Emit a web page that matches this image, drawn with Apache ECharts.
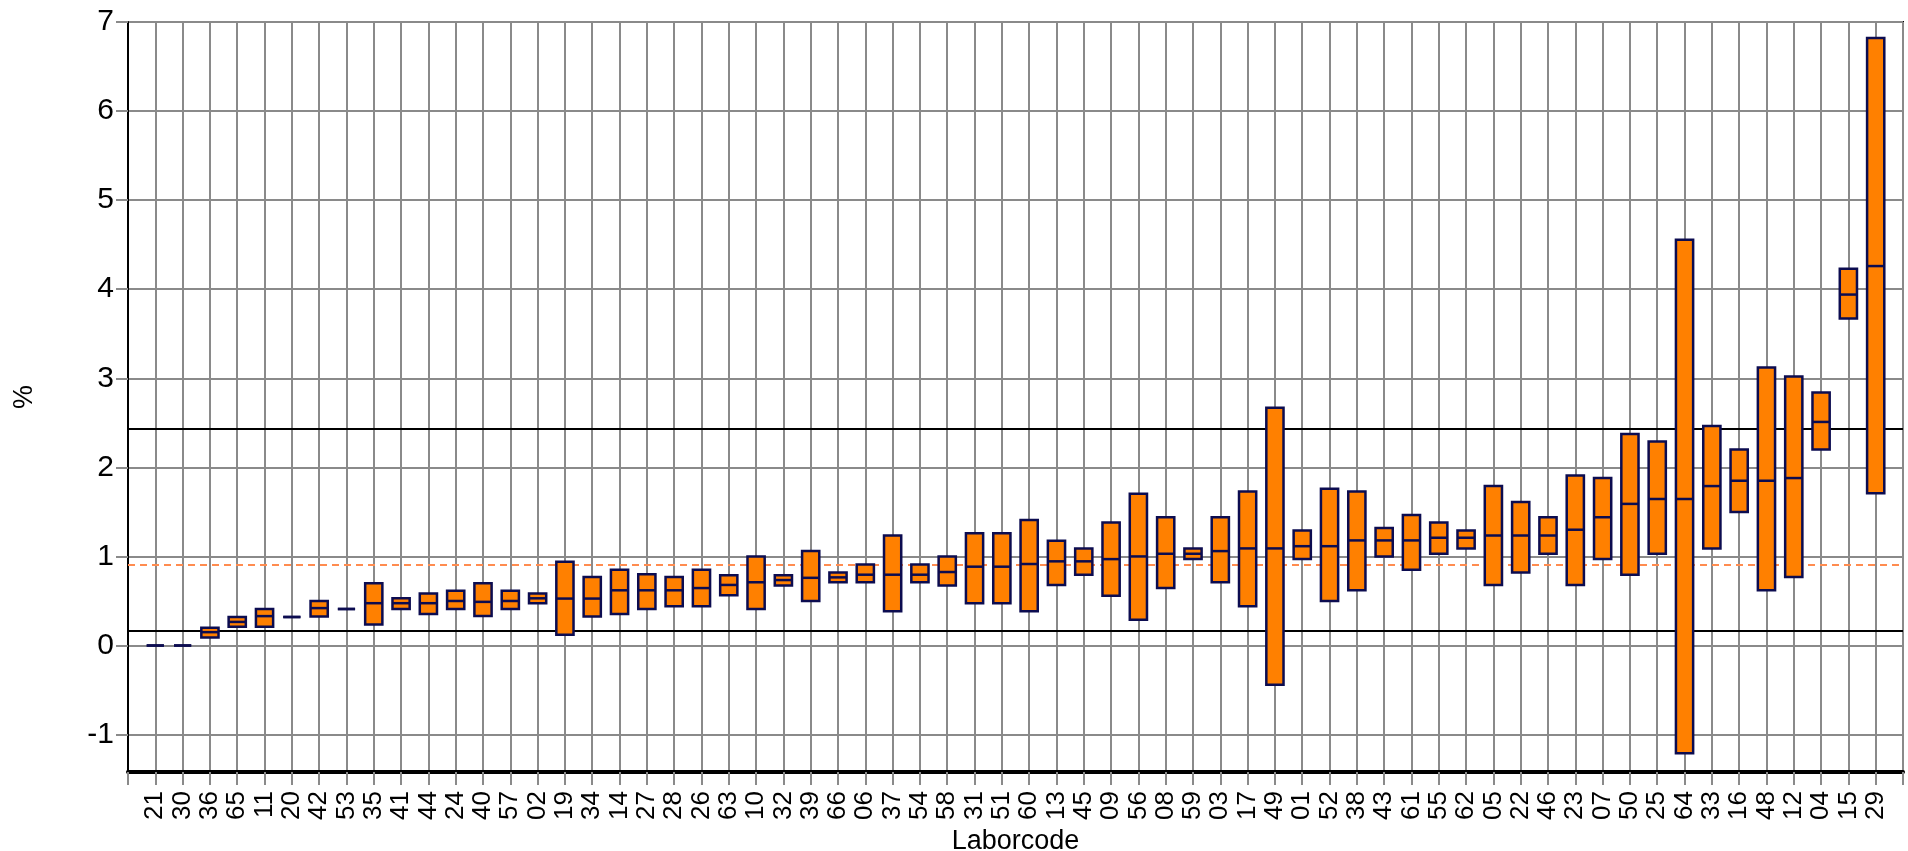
<!DOCTYPE html>
<html>
<head>
<meta charset="utf-8">
<script src="https://cdn.jsdelivr.net/npm/echarts@6/dist/echarts.min.js"></script>
<style>
html,body{margin:0;padding:0;background:#fff;}
#chart{width:1908px;height:851px;}
</style>
</head>
<body>
<div id="chart"></div>
<script>
const codes = ['21','30','36','65','11','20','42','53','35','41','44','24','40','57','02','19','34','14','27','28','26','63','10','32','39','66','06','37','54','58','31','51','60','13','45','09','56','08','59','03','17','49','01','52','38','43','61','55','62','05','22','46','23','07','50','25','64','33','16','48','12','04','15','29'];
const lows = [0,0,0.09,0.21,0.21,0.32,0.325,0.41,0.235,0.41,0.355,0.41,0.33,0.41,0.475,0.12,0.325,0.355,0.41,0.44,0.44,0.565,0.41,0.675,0.50,0.71,0.71,0.385,0.71,0.675,0.475,0.475,0.385,0.68,0.795,0.56,0.29,0.645,0.97,0.71,0.44,-0.44,0.97,0.50,0.62,1.0,0.85,1.03,1.09,0.68,0.82,1.03,0.68,0.97,0.795,1.03,-1.21,1.09,1.50,0.62,0.77,2.20,3.67,1.71];
const medians = [0,0,0.15,0.265,0.33,0.32,0.42,0.41,0.475,0.475,0.475,0.50,0.49,0.50,0.53,0.527,0.527,0.62,0.62,0.62,0.645,0.68,0.71,0.735,0.76,0.765,0.795,0.795,0.795,0.825,0.885,0.885,0.915,0.945,0.945,0.97,1.0,1.03,1.03,1.06,1.09,1.09,1.115,1.115,1.18,1.18,1.18,1.21,1.21,1.235,1.235,1.235,1.30,1.44,1.59,1.645,1.645,1.79,1.85,1.85,1.88,2.51,3.94,4.26];
const highs = [0,0,0.20,0.32,0.41,0.32,0.50,0.41,0.70,0.53,0.585,0.615,0.70,0.615,0.585,0.94,0.77,0.85,0.80,0.77,0.85,0.79,1.0,0.79,1.06,0.82,0.91,1.235,0.91,1.0,1.26,1.26,1.41,1.175,1.09,1.38,1.705,1.44,1.09,1.44,1.73,2.67,1.29,1.76,1.73,1.32,1.465,1.38,1.29,1.79,1.61,1.44,1.91,1.88,2.375,2.29,4.555,2.465,2.20,3.12,3.02,2.84,4.23,6.82];
const refLines = [2.43, 0.17];
const meanLine = 0.91;
const yMin = -1.42, yMax = 7;

const axisCats = [''].concat(codes).concat(['']);
const boxData = codes.map((c, i) => [i + 1, lows[i], medians[i], highs[i]]);

const chart = echarts.init(document.getElementById('chart'), null, {renderer: 'canvas'});
const FONT = 'Liberation Sans, Arial, sans-serif';
const grayLine = {color: '#8a8a8a', width: 2};

chart.setOption({
  animation: false,
  backgroundColor: '#ffffff',
  textStyle: {fontFamily: FONT},
  grid: {left: 128, right: 5, top: 22, bottom: 79, outerBoundsMode: 'none', containLabel: false,
         show: true, borderColor: '#000', borderWidth: 2, backgroundColor: 'transparent'},
  xAxis: {
    type: 'category',
    data: axisCats,
    boundaryGap: false,
    name: 'Laborcode',
    nameLocation: 'middle',
    nameGap: 49,
    nameTextStyle: {fontSize: 27, color: '#000', fontFamily: FONT},
    axisLine: {onZero: false, lineStyle: {color: '#000', width: 4}},
    axisTick: {show: true, interval: 0, length: 13, lineStyle: grayLine},
    axisLabel: {interval: 0, rotate: 90, fontSize: 26, color: '#000', margin: 19, fontFamily: FONT},
    splitLine: {show: true, interval: 0, lineStyle: grayLine}
  },
  yAxis: {
    type: 'value',
    min: yMin,
    max: yMax,
    minInterval: 1,
    maxInterval: 1,
    name: '%',
    nameLocation: 'middle',
    nameGap: 90,
    nameRotate: 90,
    nameTextStyle: {fontSize: 27, color: '#000', fontFamily: FONT},
    axisLine: {show: true, onZero: false, lineStyle: {color: '#000', width: 2}},
    axisTick: {show: true, length: 12, lineStyle: grayLine},
    axisLabel: {
      fontSize: 30, color: '#000', margin: 14, fontFamily: FONT,
      showMinLabel: false,
      formatter: function (v) { return Math.abs(v - Math.round(v)) < 1e-6 ? String(Math.round(v)) : ''; }
    },
    splitLine: {show: true, lineStyle: grayLine}
  },
  series: [
    {
      type: 'line',
      data: [],
      z: 1,
      silent: true,
      markLine: {
        silent: true,
        symbol: ['none', 'none'],
        label: {show: false},
        data: [
          {yAxis: refLines[0], lineStyle: {color: '#000', width: 2, type: 'solid'}},
          {yAxis: refLines[1], lineStyle: {color: '#000', width: 2, type: 'solid'}},
          {yAxis: meanLine, lineStyle: {color: '#FF8C50', width: 2, type: [7, 5]}}
        ]
      }
    },
    {
      type: 'custom',
      z: 5,
      data: boxData,
      encode: {x: 0, y: [1, 2, 3]},
      renderItem: function (params, api) {
        const x = api.value(0);
        const lo = api.coord([x, api.value(1)]);
        const md = api.coord([x, api.value(2)]);
        const hi = api.coord([x, api.value(3)]);
        const w = api.size([1, 0])[0] * 0.63;
        const left = lo[0] - w / 2;
        return {
          type: 'group',
          children: [
            {
              type: 'rect',
              shape: {x: left, y: hi[1], width: w, height: lo[1] - hi[1]},
              style: {fill: '#FF8000', stroke: '#0c0c50', lineWidth: 2.5}
            },
            {
              type: 'line',
              shape: {x1: left, y1: md[1], x2: left + w, y2: md[1]},
              style: {stroke: '#0c0c50', lineWidth: 2.5}
            }
          ]
        };
      }
    }
  ]
});
</script>
</body>
</html>
